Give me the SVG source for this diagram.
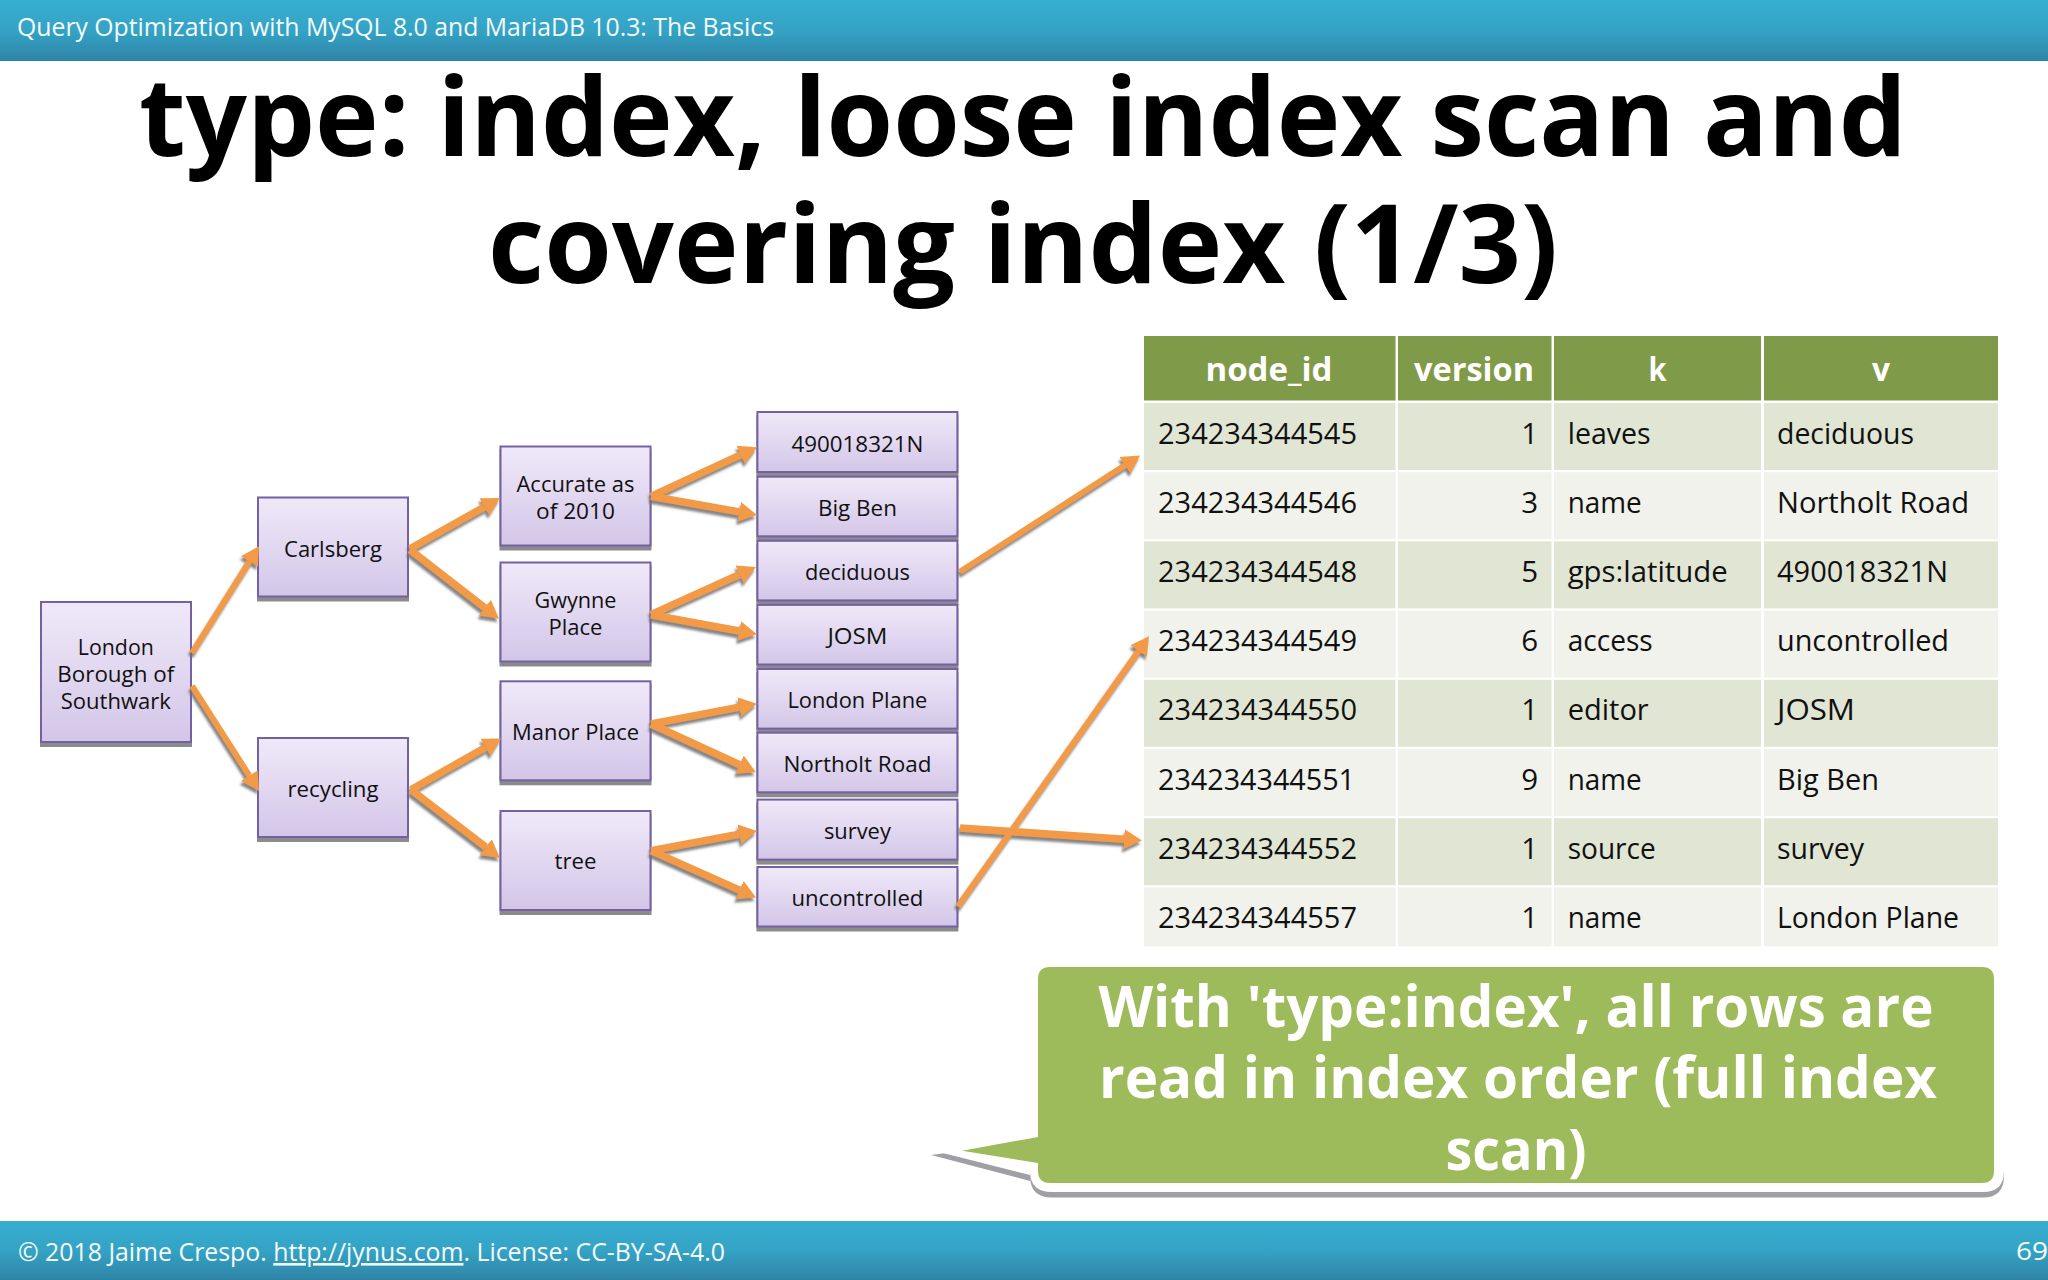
<svg xmlns="http://www.w3.org/2000/svg" width="2048" height="1280" viewBox="0 0 2048 1280">
<style>
text{font-family:"Open Sans","Noto Sans","DejaVu Sans",sans-serif;fill:#111}
.bar{fill:url(#barG)}
.bt{fill:#f4fbfd;font-size:26px}
.title{font-size:110px;font-weight:700;fill:#000;text-anchor:middle}
.call{font-size:58px;font-weight:700;fill:#fff;text-anchor:middle}
.node rect{fill:url(#nodeG);stroke:#7561a3;stroke-width:2;filter:url(#ns)}
.node text{font-size:22.5px;text-anchor:middle}
.th{fill:#7f9a48}
.d{fill:#e0e6d3}
.l{fill:#f0f2eb}
.ht{font-size:32px;font-weight:700;fill:#fff;text-anchor:middle}
.td{font-size:29.5px}
.r{text-anchor:end}
#connectors{filter:url(#as)}
#connectors path{fill:none;stroke:#f39a47;stroke-width:7.5;marker-end:url(#ah)}
#connectors path.thin{stroke-width:6}
</style>
<defs>
<linearGradient id="barG" x1="0" y1="0" x2="0" y2="1"><stop offset="0" stop-color="#37aed1"/><stop offset=".5" stop-color="#34a3c5"/><stop offset="1" stop-color="#2f84a6"/></linearGradient>
<linearGradient id="nodeG" x1="0" y1="0" x2="0" y2="1"><stop offset="0" stop-color="#f0e9f9"/><stop offset="1" stop-color="#d3c6e8"/></linearGradient>
<filter id="ns" x="-5%" y="-5%" width="110%" height="115%"><feDropShadow dx="0" dy="4" stdDeviation=".7" flood-color="#777" flood-opacity=".85"/></filter>
<filter id="as" x="0" y="0" width="2048" height="1280" filterUnits="userSpaceOnUse"><feDropShadow dx="-1.500" dy="3.500" stdDeviation=".8" flood-color="#6f6f6f" flood-opacity=".85"/></filter>
<marker id="ah" markerUnits="userSpaceOnUse" markerWidth="24" markerHeight="24" refX="0" refY="12" orient="auto"><path d="M0,2 L18,12 L0,22 Z" style="fill:#f39a47;stroke:none"/></marker>
</defs>
<rect width="2048" height="1280" fill="#fff"/>
<g id="header"><rect class="bar" width="2048" height="61"/><text class="bt" x="17" y="36" textLength="757" lengthAdjust="spacingAndGlyphs">Query Optimization with MySQL 8.0 and MariaDB 10.3: The Basics</text></g>
<g id="title"><text class="title" x="1023" y="156" textLength="1768" lengthAdjust="spacingAndGlyphs">type: index, loose index scan and</text><text class="title" x="1023" y="283" textLength="1070" lengthAdjust="spacingAndGlyphs">covering index (1/3)</text></g>

<g id="n-london" class="node"><rect x="41" y="602" width="150" height="140"/><text x="115.8" y="654.5" textLength="76" lengthAdjust="spacingAndGlyphs">London</text><text x="115.8" y="681.5" textLength="117" lengthAdjust="spacingAndGlyphs">Borough of</text><text x="115.8" y="708.5" textLength="110" lengthAdjust="spacingAndGlyphs">Southwark</text></g>
<g id="n-carlsberg" class="node"><rect x="258" y="497.5" width="150" height="99"/><text x="333" y="556.7" textLength="98" lengthAdjust="spacingAndGlyphs">Carlsberg</text></g>
<g id="n-recycling" class="node"><rect x="258" y="738" width="150" height="99"/><text x="333" y="796.500" textLength="91" lengthAdjust="spacingAndGlyphs">recycling</text></g>
<g id="n-accurate" class="node"><rect x="500.5" y="446.5" width="150" height="99"/><text x="575.5" y="491.5" textLength="118" lengthAdjust="spacingAndGlyphs">Accurate as</text><text x="575.5" y="518.5" textLength="79" lengthAdjust="spacingAndGlyphs">of 2010</text></g>
<g id="n-gwynne" class="node"><rect x="500.5" y="562.5" width="150" height="99"/><text x="575.5" y="607.5" textLength="82" lengthAdjust="spacingAndGlyphs">Gwynne</text><text x="575.5" y="634.5" textLength="54" lengthAdjust="spacingAndGlyphs">Place</text></g>
<g id="n-manor" class="node"><rect x="500.5" y="681.3" width="150" height="99"/><text x="575.5" y="739.5" textLength="127" lengthAdjust="spacingAndGlyphs">Manor Place</text></g>
<g id="n-tree" class="node"><rect x="500.5" y="811" width="150" height="99"/><text x="575.5" y="869" textLength="42" lengthAdjust="spacingAndGlyphs">tree</text></g>

<g id="n-490018321N" class="node"><rect x="757.4" y="412" width="200" height="60"/><text x="857.4" y="451.8" textLength="132" lengthAdjust="spacingAndGlyphs">490018321N</text></g>
<g id="n-bigben" class="node"><rect x="757.4" y="476.7" width="200" height="59.6"/><text x="857.4" y="516" textLength="79" lengthAdjust="spacingAndGlyphs">Big Ben</text></g>
<g id="n-deciduous" class="node"><rect x="757.4" y="540.8" width="200" height="59.6"/><text x="857.4" y="579.6" textLength="105" lengthAdjust="spacingAndGlyphs">deciduous</text></g>
<g id="n-josm" class="node"><rect x="757.4" y="604.9" width="200" height="59.6"/><text x="857.4" y="643.5" textLength="60" lengthAdjust="spacingAndGlyphs">JOSM</text></g>
<g id="n-londonplane" class="node"><rect x="757.4" y="669" width="200" height="59.6"/><text x="857.4" y="707.8" textLength="140" lengthAdjust="spacingAndGlyphs">London Plane</text></g>
<g id="n-northolt" class="node"><rect x="757.4" y="732.7" width="200" height="59.6"/><text x="857.4" y="771.8" textLength="148" lengthAdjust="spacingAndGlyphs">Northolt Road</text></g>
<g id="n-survey" class="node"><rect x="757.4" y="799.6" width="200" height="60"/><text x="857.4" y="839" textLength="67" lengthAdjust="spacingAndGlyphs">survey</text></g>
<g id="n-uncontrolled" class="node"><rect x="757.4" y="867" width="200" height="59.5"/><text x="857.4" y="906" textLength="132" lengthAdjust="spacingAndGlyphs">uncontrolled</text></g>

<g id="table">
<rect class="th" x="1144" y="336" width="251.5" height="64.5"/><rect class="th" x="1398" y="336" width="153.5" height="64.5"/><rect class="th" x="1554" y="336" width="207" height="64.5"/><rect class="th" x="1764" y="336" width="234" height="64.5"/>
<text class="ht" x="1269" y="381" textLength="127" lengthAdjust="spacingAndGlyphs">node_id</text><text class="ht" x="1474" y="381" textLength="120" lengthAdjust="spacingAndGlyphs">version</text><text class="ht" x="1657.5" y="381" textLength="18" lengthAdjust="spacingAndGlyphs">k</text><text class="ht" x="1881" y="381" textLength="18" lengthAdjust="spacingAndGlyphs">v</text>

<rect class="d" x="1144" y="403" width="251.5" height="67"/><rect class="d" x="1398" y="403" width="153.5" height="67"/><rect class="d" x="1554" y="403" width="207" height="67"/><rect class="d" x="1764" y="403" width="234" height="67"/>
<text class="td" x="1158" y="443.5" textLength="199" lengthAdjust="spacingAndGlyphs">234234344545</text><text class="td r" x="1538" y="443.5">1</text><text class="td" x="1567.7" y="443.5" textLength="83" lengthAdjust="spacingAndGlyphs">leaves</text><text class="td" x="1777" y="443.5" textLength="137" lengthAdjust="spacingAndGlyphs">deciduous</text>

<rect class="l" x="1144" y="472.2" width="251.5" height="67"/><rect class="l" x="1398" y="472.2" width="153.5" height="67"/><rect class="l" x="1554" y="472.2" width="207" height="67"/><rect class="l" x="1764" y="472.2" width="234" height="67"/>
<text class="td" x="1158" y="512.7" textLength="199" lengthAdjust="spacingAndGlyphs">234234344546</text><text class="td r" x="1538" y="512.7">3</text><text class="td" x="1567.7" y="512.7" textLength="74" lengthAdjust="spacingAndGlyphs">name</text><text class="td" x="1777" y="512.7" textLength="192" lengthAdjust="spacingAndGlyphs">Northolt Road</text>

<rect class="d" x="1144" y="541.4" width="251.5" height="67"/><rect class="d" x="1398" y="541.4" width="153.5" height="67"/><rect class="d" x="1554" y="541.4" width="207" height="67"/><rect class="d" x="1764" y="541.4" width="234" height="67"/>
<text class="td" x="1158" y="581.9" textLength="199" lengthAdjust="spacingAndGlyphs">234234344548</text><text class="td r" x="1538" y="581.9">5</text><text class="td" x="1567.7" y="581.9" textLength="160" lengthAdjust="spacingAndGlyphs">gps:latitude</text><text class="td" x="1777" y="581.9" textLength="171" lengthAdjust="spacingAndGlyphs">490018321N</text>

<rect class="l" x="1144" y="610.6" width="251.5" height="67"/><rect class="l" x="1398" y="610.6" width="153.5" height="67"/><rect class="l" x="1554" y="610.6" width="207" height="67"/><rect class="l" x="1764" y="610.6" width="234" height="67"/>
<text class="td" x="1158" y="651.1" textLength="199" lengthAdjust="spacingAndGlyphs">234234344549</text><text class="td r" x="1538" y="651.1">6</text><text class="td" x="1567.7" y="651.1" textLength="85" lengthAdjust="spacingAndGlyphs">access</text><text class="td" x="1777" y="651.1" textLength="172" lengthAdjust="spacingAndGlyphs">uncontrolled</text>

<rect class="d" x="1144" y="679.8" width="251.5" height="67"/><rect class="d" x="1398" y="679.8" width="153.5" height="67"/><rect class="d" x="1554" y="679.8" width="207" height="67"/><rect class="d" x="1764" y="679.8" width="234" height="67"/>
<text class="td" x="1158" y="720.3" textLength="199" lengthAdjust="spacingAndGlyphs">234234344550</text><text class="td r" x="1538" y="720.3">1</text><text class="td" x="1567.7" y="720.3" textLength="81" lengthAdjust="spacingAndGlyphs">editor</text><text class="td" x="1777" y="720.3" textLength="78" lengthAdjust="spacingAndGlyphs">JOSM</text>

<rect class="l" x="1144" y="749" width="251.5" height="67"/><rect class="l" x="1398" y="749" width="153.5" height="67"/><rect class="l" x="1554" y="749" width="207" height="67"/><rect class="l" x="1764" y="749" width="234" height="67"/>
<text class="td" x="1158" y="789.5" textLength="197" lengthAdjust="spacingAndGlyphs">234234344551</text><text class="td r" x="1538" y="789.5">9</text><text class="td" x="1567.7" y="789.5" textLength="74" lengthAdjust="spacingAndGlyphs">name</text><text class="td" x="1777" y="789.5" textLength="102" lengthAdjust="spacingAndGlyphs">Big Ben</text>

<rect class="d" x="1144" y="818.2" width="251.5" height="67"/><rect class="d" x="1398" y="818.2" width="153.5" height="67"/><rect class="d" x="1554" y="818.2" width="207" height="67"/><rect class="d" x="1764" y="818.2" width="234" height="67"/>
<text class="td" x="1158" y="858.7" textLength="199" lengthAdjust="spacingAndGlyphs">234234344552</text><text class="td r" x="1538" y="858.7">1</text><text class="td" x="1567.7" y="858.7" textLength="88" lengthAdjust="spacingAndGlyphs">source</text><text class="td" x="1777" y="858.7" textLength="87" lengthAdjust="spacingAndGlyphs">survey</text>

<rect class="l" x="1144" y="887.4" width="251.5" height="59"/><rect class="l" x="1398" y="887.4" width="153.5" height="59"/><rect class="l" x="1554" y="887.4" width="207" height="59"/><rect class="l" x="1764" y="887.4" width="234" height="59"/>
<text class="td" x="1158" y="927.9" textLength="199" lengthAdjust="spacingAndGlyphs">234234344557</text><text class="td r" x="1538" y="927.9">1</text><text class="td" x="1567.7" y="927.9" textLength="74" lengthAdjust="spacingAndGlyphs">name</text><text class="td" x="1777" y="927.9" textLength="182" lengthAdjust="spacingAndGlyphs">London Plane</text>
</g>

<g id="connectors">
<path class="thin" d="M192,653 L249.4,561.5"/>
<path class="thin" d="M192,685.8 L249.3,775.6"/>
<path d="M410,548.8 L484.3,506.9"/>
<path d="M410,549.8 L484.8,607.7"/>
<path d="M411,789.8 L485.4,747.4"/>
<path d="M411,789.8 L485.7,847.1"/>
<path d="M651,496.3 L740.7,454.9"/>
<path d="M651,496.3 L739.3,511.9"/>
<path d="M651,614.7 L739.6,574.5"/>
<path d="M651,614.7 L739.3,631"/>
<path d="M651,724 L739.3,707.1"/>
<path d="M651,724 L739.6,764.7"/>
<path d="M651,850.6 L739.3,834.3"/>
<path d="M651,850.6 L739.6,890.2"/>
<path class="thin" d="M960,571.8 L1124.9,465.3"/>
<path d="M960,828 L1124,839.2"/>
<path class="thin" d="M958,906.5 L1138.6,651"/>
</g>

<g id="callout">
<path fill="#a09fa6" d="M1038,1141 L931,1155 L1030,1181 V1176 Q1030,1197.500 1052,1197.500 H1983 Q2004,1197.500 2004,1176 V975 H1038 Z"/>
<path fill="#fff" d="M1038,1137 L931,1150 L1030,1175 V1171 Q1030,1192 1052,1192 H1983 Q2004,1192 2004,1171 V975 H1038 Z"/>
<path fill="#9ebb5c" d="M1050,967 H1982 Q1994,967 1994,979 V1171 Q1994,1183 1982,1183 H1050 Q1038,1183 1038,1171 V1163 L962,1150.700 L1038,1137 V979 Q1038,967 1050,967 Z"/>
<text class="call" x="1516" y="1027" textLength="835" lengthAdjust="spacingAndGlyphs">With 'type:index', all rows are</text>
<text class="call" x="1518" y="1098" textLength="838" lengthAdjust="spacingAndGlyphs">read in index order (full index</text>
<text class="call" x="1516" y="1170" textLength="141" lengthAdjust="spacingAndGlyphs">scan)</text>
</g>

<g id="footer"><rect class="bar" y="1221" width="2048" height="59"/>
<text class="bt" x="18" y="1261" textLength="707" lengthAdjust="spacingAndGlyphs">© 2018 Jaime Crespo. <tspan text-decoration="underline" fill="#f4fbfd">http://jynus.com</tspan>. License: CC-BY-SA-4.0</text>
<text class="bt" x="2016" y="1260" textLength="32" lengthAdjust="spacingAndGlyphs">69</text></g>
</svg>
